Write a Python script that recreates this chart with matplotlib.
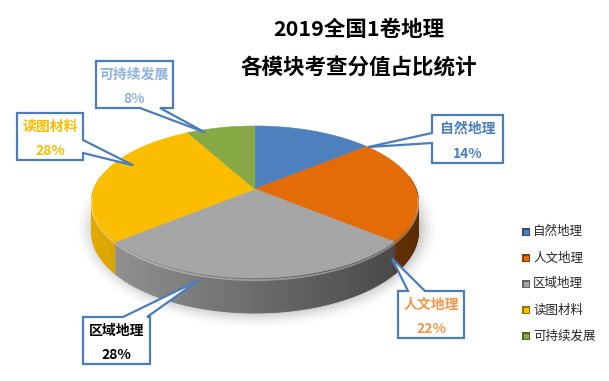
import numpy as np
import matplotlib
matplotlib.use("Agg")
import matplotlib.pyplot as plt
from matplotlib.patches import Polygon, Rectangle, Ellipse
from matplotlib.collections import PolyCollection

plt.rcParams['font.family'] = ['Noto Sans CJK SC', 'DejaVu Sans']

# ---------------- data ----------------
categories = ['自然地理', '人文地理', '区域地理', '读图材料', '可持续发展']
values = [14, 22, 28, 28, 8]
colors = ['#4E80BD', '#E36C09', '#A6A6A6', '#FBBD00', '#87A946']
label_colors = ['#4A7EBB', '#F79646', '#000000', '#F9BC00', '#8DB3E2']
title_lines = ['2019全国1卷地理', '各模块考查分值占比统计']

# ---------------- layout (pixel space) ----------------
W, H = 609, 381
CX, CY = 255, 189          # pie apex on screen
A, B = 161, 73.8           # projected radii
K = 0.171                  # perspective strength
D = 29                     # thickness

def proj(theta_deg, r=1.0, z=0.0):
    t = np.radians(theta_deg)
    u = r * np.sin(t)
    v = -r * np.cos(t)
    den = 1 - K * v
    return CX + A * u / den, CY + (B * v + D * z) / den

def hex2rgb(h):
    h = h.lstrip('#')
    return np.array([int(h[i:i + 2], 16) for i in (0, 2, 4)]) / 255.0

fig = plt.figure(figsize=(W / 100, H / 100), dpi=100)
ax = fig.add_axes([0, 0, 1, 1])
ax.set_xlim(0, W)
ax.set_ylim(H, 0)
ax.axis('off')

# slice angles (clockwise from 12 o'clock)
total = float(sum(values))
bounds = np.concatenate([[0], np.cumsum(values) / total * 360.0])

# soft shadow
for i, a in enumerate(np.linspace(0.05, 0.012, 6)):
    ax.add_patch(Ellipse((CX + 2, CY + 40), 2 * (A + 4 + 3 * i), 2 * (B + 12 + 2.5 * i),
                         facecolor='#000000', alpha=a, edgecolor='none', zorder=1))

# sides
xmin, xmax = CX - A, CX + A
quads, qcols, qdepth = [], [], []
for i in range(len(values)):
    a0, a1 = bounds[i], bounds[i + 1]
    lo, hi = max(a0, 80), min(a1, 280)
    if hi <= lo:
        continue
    ts = np.linspace(lo, hi, int(np.ceil(hi - lo)) + 2)
    base = hex2rgb(colors[i])
    for t0, t1 in zip(ts[:-1], ts[1:]):
        p0 = proj(t0); p1 = proj(t1)
        q0 = proj(t0, z=1); q1 = proj(t1, z=1)
        xm = 0.5 * (p0[0] + p1[0])
        f = 0.9 - 0.5 * (xm - xmin) / (xmax - xmin)
        c = np.clip(base * f, 0, 1)
        quads.append([p0, p1, q1, q0])
        qcols.append(c)
        qdepth.append(-np.cos(np.radians(0.5 * (t0 + t1))))
order = np.argsort(qdepth)
pc = PolyCollection([quads[j] for j in order], facecolors=[qcols[j] for j in order],
                    edgecolors=[qcols[j] for j in order], linewidths=0.6, zorder=2)
ax.add_collection(pc)

# top faces
for i in range(len(values)):
    ts = np.linspace(bounds[i], bounds[i + 1], 120)
    pts = [(CX, CY)] + [proj(t) for t in ts]
    ax.add_patch(Polygon(pts, closed=True, facecolor=colors[i], edgecolor=colors[i],
                         linewidth=0.4, zorder=3))

# rim highlight on the front edge
ts = np.linspace(95, 265, 200)
rim = np.array([proj(t, z=0.06) for t in ts])
ax.plot(rim[:, 0], rim[:, 1], color='white', alpha=0.35, lw=1.2, zorder=4)

# ---------------- callouts ----------------
# box (x0, y0, x1, y1), pointer side, pointer base (a, b), tip (theta, r, z)
callouts = [
    ((432, 115, 503, 163), 'left', (133, 143), (51, 1.0, 0.0)),
    ((398, 291, 464, 338), 'top', (408, 425), (131, 1.0, 0.45)),
    ((83, 317, 150, 364), 'top', (123, 147), (197, 1.0, 0.2)),
    ((17, 113, 83, 160), 'right', (140, 153), (293, 0.87, 0.0)),
    ((96, 61, 173, 108), 'bottom', (140, 160), (338, 0.95, 0.0)),
]
EC = '#4A7EBB'
for i, (box, side, (b1, b2), tip) in enumerate(callouts):
    x0, y0, x1, y1 = box
    tx, ty = proj(*tip)
    if side == 'left':
        pts = [(x0, y0), (x1, y0), (x1, y1), (x0, y1), (x0, b2), (tx, ty), (x0, b1)]
    elif side == 'right':
        pts = [(x0, y0), (x1, y0), (x1, b1), (tx, ty), (x1, b2), (x1, y1), (x0, y1)]
    elif side == 'top':
        pts = [(x0, y0), (b1, y0), (tx, ty), (b2, y0), (x1, y0), (x1, y1), (x0, y1)]
    else:
        pts = [(x0, y0), (x1, y0), (x1, y1), (b2, y1), (tx, ty), (b1, y1), (x0, y1)]
    ax.add_patch(Polygon(pts, closed=True, facecolor='white', edgecolor=EC,
                         linewidth=1.6, joinstyle='miter', zorder=6))
    xc = 0.5 * (x0 + x1)
    ax.text(xc, y0 + 14, categories[i], ha='center', va='center', fontsize=10,
            fontweight='bold', color=label_colors[i], zorder=7)
    ax.text(xc, y1 - 9, f'{values[i]}%', ha='center', va='center', fontsize=10,
            fontweight='bold', color=label_colors[i], zorder=7)

# ---------------- title ----------------
ax.text(359, 30, title_lines[0], ha='center', va='center', fontsize=15.5,
        fontweight='bold', color='black')
ax.text(359, 67, title_lines[1], ha='center', va='center', fontsize=15.5,
        fontweight='bold', color='black')

# ---------------- legend ----------------
for i, name in enumerate(categories):
    y = 232 + 26 * i
    base = hex2rgb(colors[i])
    ax.add_patch(Rectangle((522, y - 4), 8, 8, facecolor=np.clip(base * 0.6, 0, 1),
                           edgecolor='none', zorder=5))
    ax.add_patch(Rectangle((523.5, y - 2.5), 5, 5, facecolor=base, edgecolor='none', zorder=6))
    ax.text(533, y, name, ha='left', va='center', fontsize=9, color='#262626')

fig.savefig('out.png', dpi=100)
